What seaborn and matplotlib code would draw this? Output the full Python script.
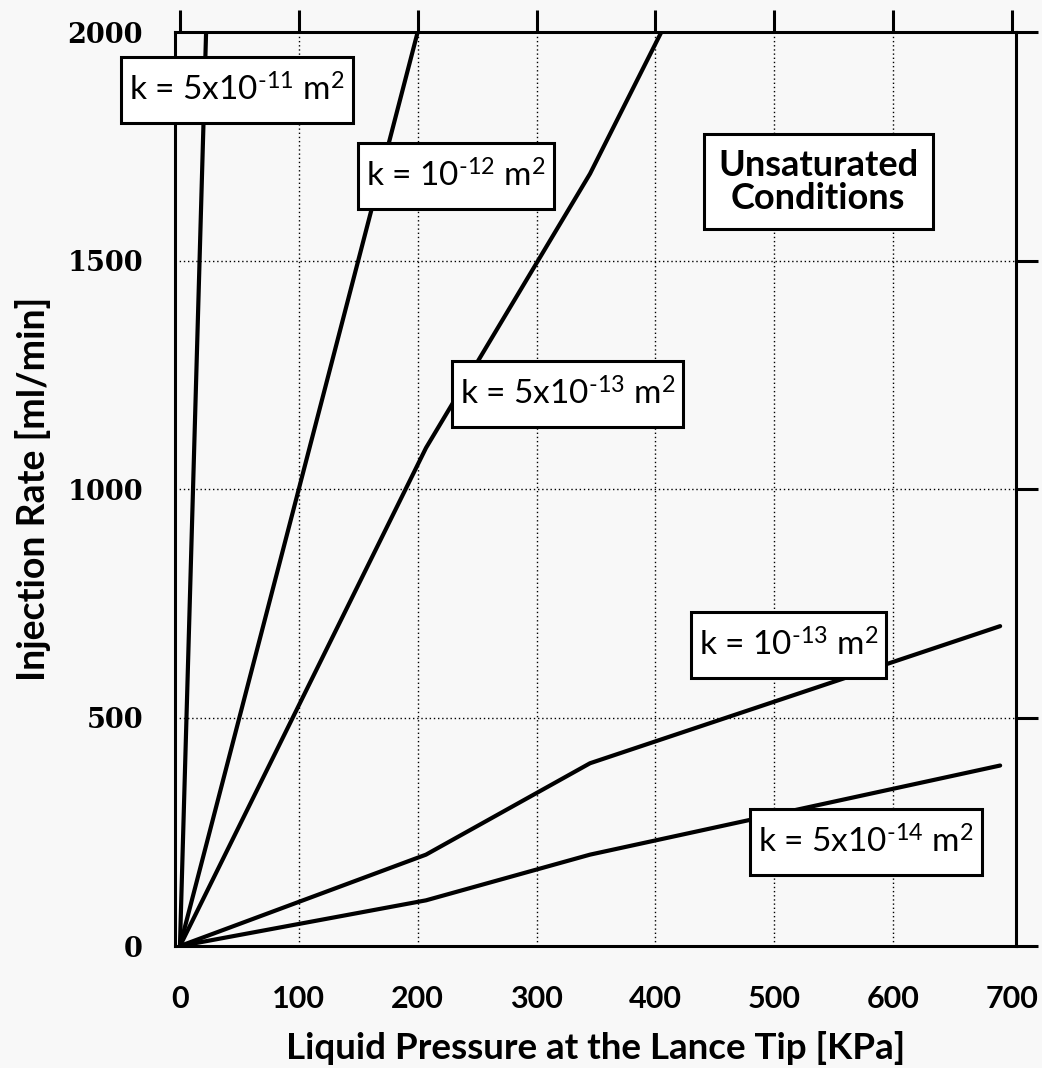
import numpy as np
import pandas as pd
import matplotlib
matplotlib.use("Agg")
import matplotlib.pyplot as plt
from matplotlib.path import Path
import seaborn as sns

sns.set_style("white")
plt.rcParams['font.family'] = ['Lato', 'DejaVu Sans']
plt.rcParams['mathtext.fontset'] = 'custom'
plt.rcParams['mathtext.rm'] = 'Lato'
plt.rcParams['mathtext.it'] = 'Lato:italic'
plt.rcParams['mathtext.bf'] = 'Lato:bold'
plt.rcParams['text.color'] = 'black'
plt.rcParams['axes.labelcolor'] = 'black'
plt.rcParams['xtick.color'] = 'black'
plt.rcParams['ytick.color'] = 'black'

# injection rate vs pressure, one curve per permeability
p_5e11 = [0, 22]
q_5e11 = [0, 2000]
p_1e12 = [0, 200]
q_1e12 = [0, 2000]
p_5e13 = [0, 207, 345, 405]
q_5e13 = [0, 1090, 1690, 2000]
p_1e13 = [0, 207, 345, 690]
q_1e13 = [0, 200, 400, 700]
p_5e14 = [0, 207, 345, 690]
q_5e14 = [0, 100, 200, 395]

curve_names = ["5e-11", "1e-12", "5e-13", "1e-13", "5e-14"]
curve_labels = [
    r"k = 5x10$^{\text{-11}}$ m$^{2}$",
    r"k = 10$^{\text{-12}}$ m$^{2}$",
    r"k = 5x10$^{\text{-13}}$ m$^{2}$",
    r"k = 10$^{\text{-13}}$ m$^{2}$",
    r"k = 5x10$^{\text{-14}}$ m$^{2}$",
]
label_pos = [(48, 1873), (232, 1685), (326, 1208), (512, 659), (577, 228)]

xticks = [0, 100, 200, 300, 400, 500, 600, 700]
yticks = [0, 500, 1000, 1500, 2000]

pressures = [p_5e11, p_1e12, p_5e13, p_1e13, p_5e14]
rates = [q_5e11, q_1e12, q_5e13, q_1e13, q_5e14]
frames = []
for name, p, q in zip(curve_names, pressures, rates):
    frames.append(pd.DataFrame({"pressure": p, "rate": q, "curve": name}))
df = pd.concat(frames, ignore_index=True)


def label_box(x0, y0, width, height, mutation_size):
    # square box with more room above and below than at the sides
    px = 0.24 * mutation_size
    py = 0.5 * mutation_size
    x0, y0 = x0 - px, y0 - py
    x1, y1 = x0 + width + 2 * px, y0 + height + 2 * py
    return Path([(x0, y0), (x1, y0), (x1, y1), (x0, y1), (x0, y0)],
                closed=True)


bg = "#f8f8f8"
fig = plt.figure(figsize=(10.42, 10.68), dpi=100, facecolor=bg)
ax = fig.add_axes([0.1679, 0.1142, 0.8071, 0.8558])
ax.set_facecolor(bg)

sns.lineplot(data=df, x="pressure", y="rate", units="curve", estimator=None,
             sort=False, color="black", linewidth=3, ax=ax, zorder=3)

ax.set_xlim(-4.2, 703.3)
ax.set_ylim(0, 2000)
ax.set_xticks(xticks)
ax.set_yticks(yticks)

ax.grid(True, color="black", linestyle=(0, (1, 2)), linewidth=1.0)
for g in [ax.xaxis.get_gridlines()[0], ax.xaxis.get_gridlines()[-1],
          ax.yaxis.get_gridlines()[0], ax.yaxis.get_gridlines()[-1]]:
    g.set_visible(False)

for s in ax.spines.values():
    s.set_linewidth(2.2)
    s.set_color("black")

ax.tick_params(axis="both", direction="out", length=16, width=2.2,
               top=True, right=True, labeltop=False, labelright=False)
ax.tick_params(axis="x", pad=12)
ax.tick_params(axis="y", pad=7)

for lab in ax.get_xticklabels():
    lab.set_fontsize(22)
    lab.set_fontweight("bold")
for lab in ax.get_yticklabels():
    lab.set_fontfamily("DejaVu Serif")
    lab.set_fontsize(19.5)
    lab.set_fontweight("bold")

ax.set_xlabel("Liquid Pressure at the Lance Tip [KPa]", fontsize=26.5,
              fontweight="bold", labelpad=13)
ax.set_ylabel("Injection Rate [ml/min]", fontsize=27, fontweight="bold",
              labelpad=12)

for txt, (px, py) in zip(curve_labels, label_pos):
    ax.text(px, py, txt, ha="center", va="center", fontsize=24,
            bbox=dict(boxstyle=label_box, fc="white", ec="black", lw=2.2),
            zorder=5)

ax.text(537, 1672, "Unsaturated\nConditions", ha="center", va="center",
        fontsize=26, fontweight="bold", linespacing=1.0,
        bbox=dict(boxstyle="square,pad=0.4", fc="white", ec="black", lw=2.2),
        zorder=5)

fig.savefig("out.png", dpi=100, facecolor=bg)
